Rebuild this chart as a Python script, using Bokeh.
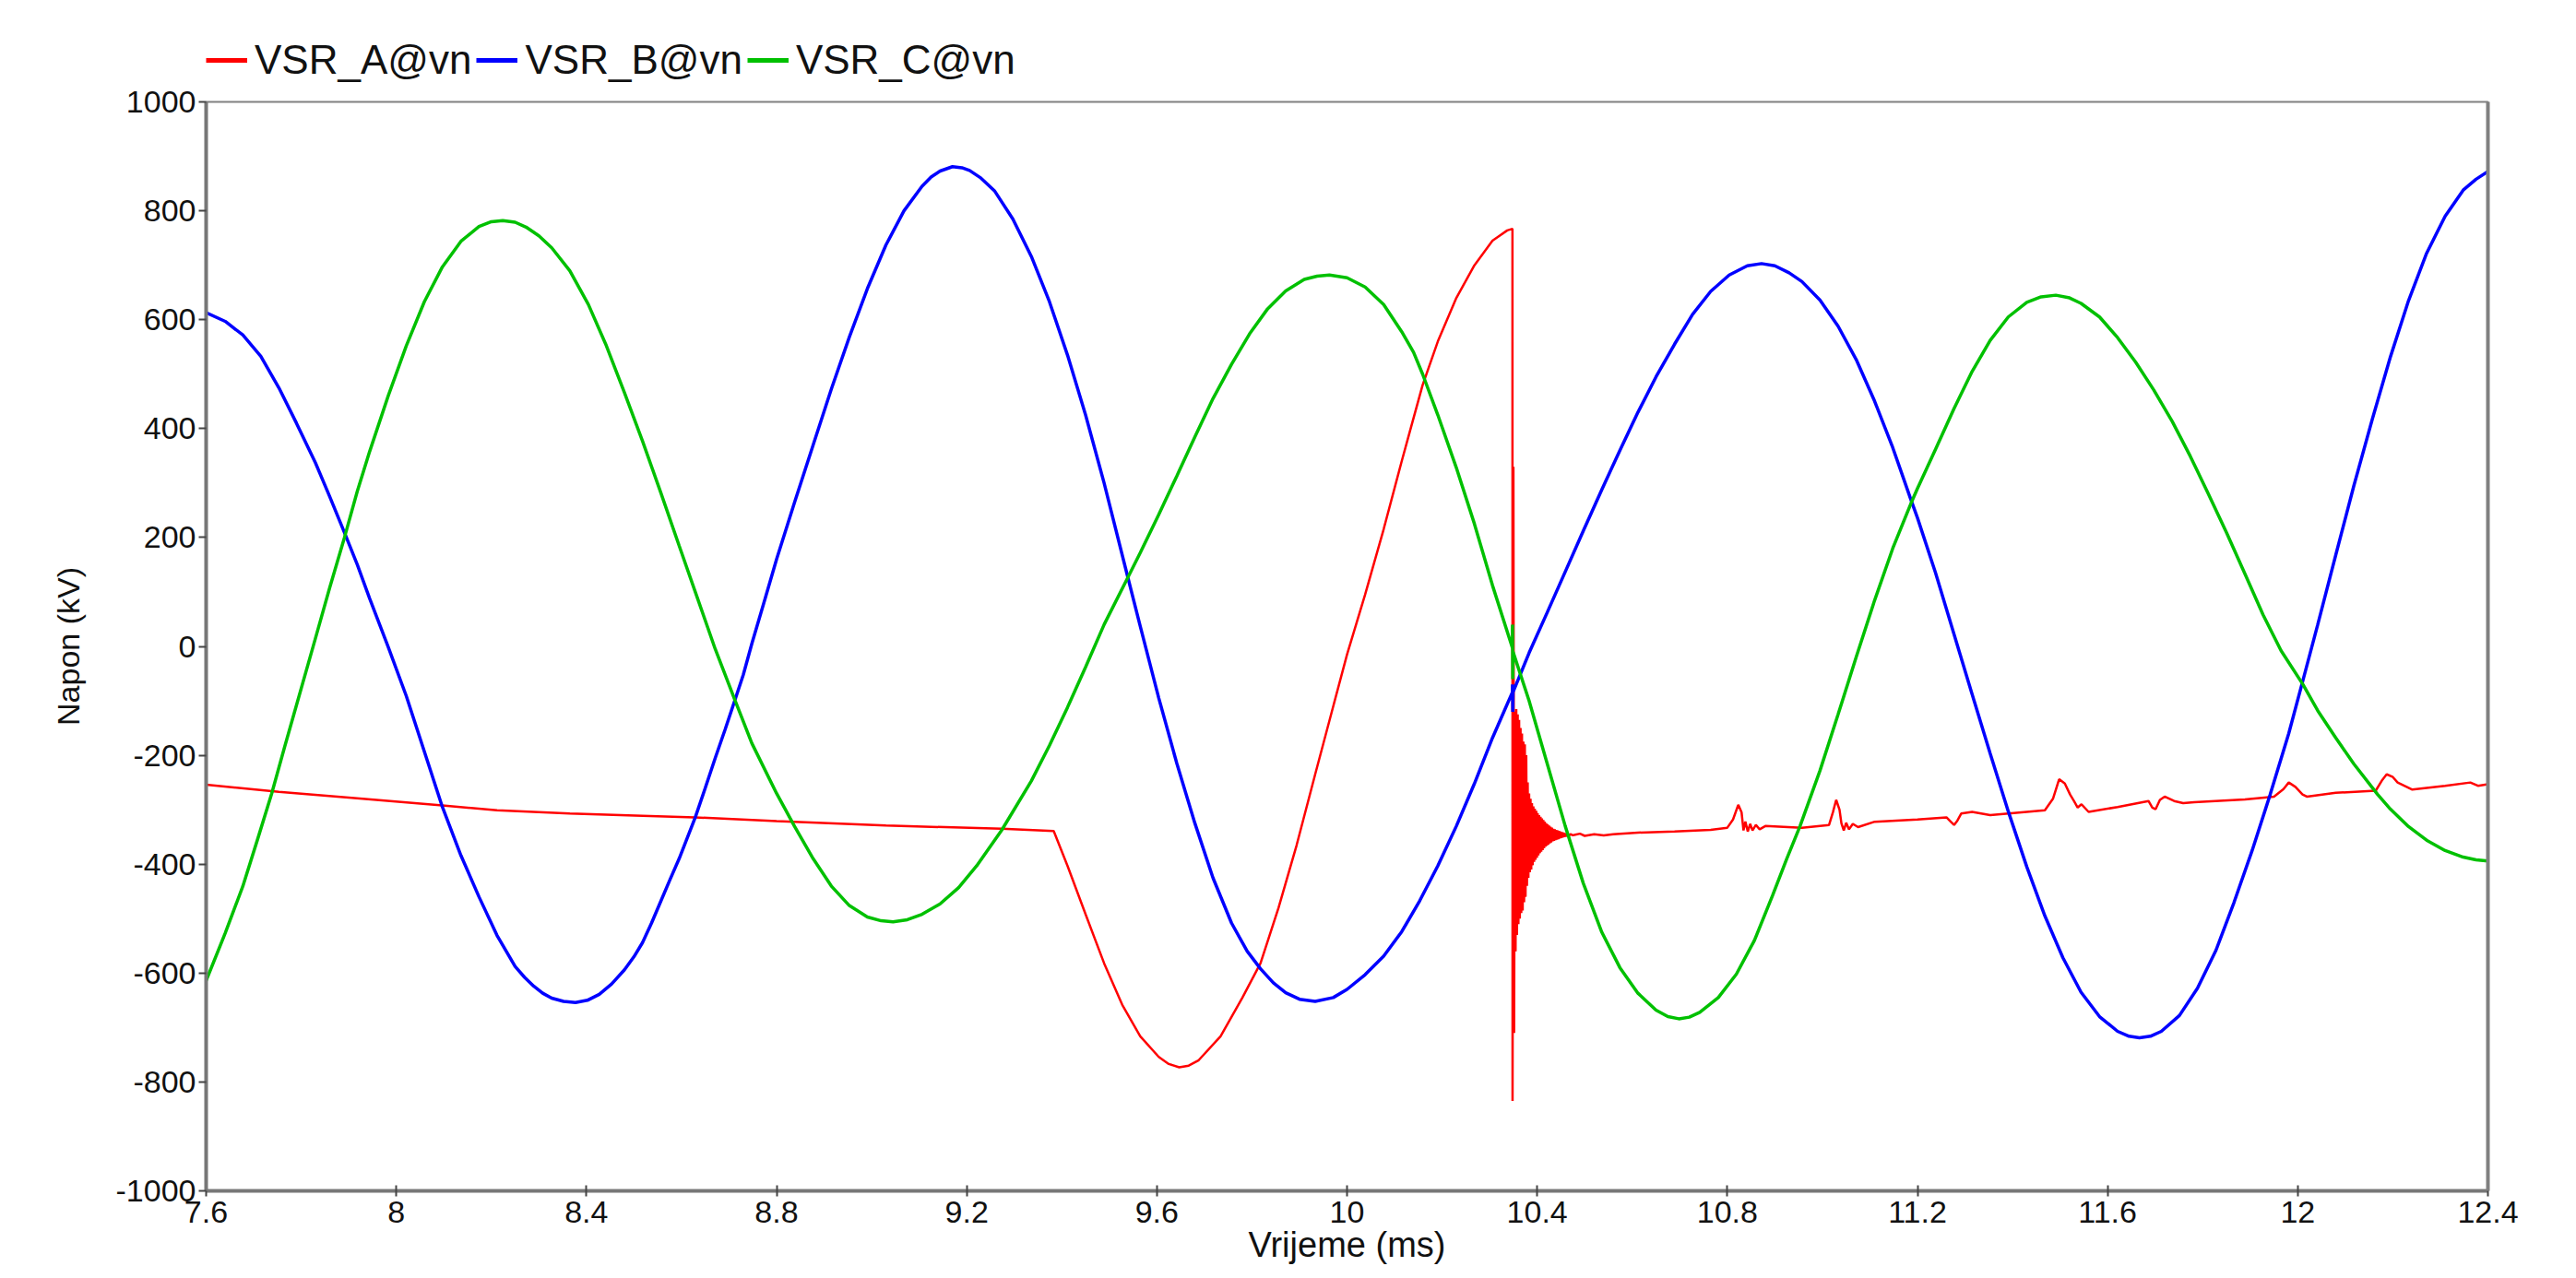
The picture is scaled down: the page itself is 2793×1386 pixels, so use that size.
from bokeh.plotting import figure
from bokeh.models import Legend, LegendItem, LinearAxis, FixedTicker, Range1d
from bokeh.layouts import column
from bokeh.embed import file_html
from bokeh.resources import INLINE

# ---------------- data (time in ms, voltage in kV) ----------------
series_names = ["VSR_A@vn", "VSR_B@vn", "VSR_C@vn"]

x_ticks = [7.6, 8.0, 8.4, 8.8, 9.2, 9.6, 10.0, 10.4, 10.8, 11.2, 11.6, 12.0, 12.4]
x_tick_labels = ["7.6", "8", "8.4", "8.8", "9.2", "9.6", "10", "10.4", "10.8", "11.2", "11.6", "12", "12.4"]
y_ticks = [-1000, -800, -600, -400, -200, 0, 200, 400, 600, 800, 1000]
y_tick_labels = ["-1000", "-800", "-600", "-400", "-200", "0", "200", "400", "600", "800", "1000"]

# VSR_B (blue)
b_t = [7.600, 7.640, 7.677, 7.715, 7.753, 7.790, 7.830, 7.860, 7.891, 7.918, 7.944, 7.983, 8.021,
       8.059, 8.097, 8.136, 8.174, 8.212, 8.250, 8.270, 8.289, 8.308, 8.327, 8.352, 8.377, 8.402,
       8.427, 8.453, 8.480, 8.500, 8.518, 8.537, 8.557, 8.575, 8.595, 8.612, 8.629, 8.650, 8.671,
       8.692, 8.713, 8.730, 8.748, 8.775, 8.800, 8.838, 8.877, 8.915, 8.953, 8.991, 9.030, 9.068,
       9.106, 9.125, 9.144, 9.170, 9.190, 9.206, 9.230, 9.259, 9.297, 9.336, 9.374, 9.412, 9.450,
       9.489, 9.538, 9.565, 9.604, 9.642, 9.680, 9.718, 9.757, 9.790, 9.818, 9.845, 9.871, 9.900,
       9.933, 9.971, 10.000, 10.038, 10.077, 10.115, 10.153, 10.191, 10.230, 10.268, 10.306, 10.348,
       10.3481, 10.3486, 10.3492, 10.383, 10.421, 10.459, 10.497, 10.536, 10.574, 10.612, 10.650,
       10.689, 10.727, 10.765, 10.804, 10.842, 10.872, 10.900, 10.930, 10.957, 10.995, 11.033,
       11.071, 11.110, 11.148, 11.186, 11.200, 11.238, 11.277, 11.315, 11.353, 11.391, 11.430,
       11.468, 11.506, 11.544, 11.583, 11.621, 11.645, 11.667, 11.690, 11.713, 11.751, 11.789,
       11.828, 11.866, 11.904, 11.942, 11.981, 12.011, 12.042, 12.080, 12.118, 12.157, 12.195,
       12.233, 12.271, 12.310, 12.348, 12.375, 12.400]
b_v = [613, 597, 572, 533, 475, 410, 337, 275, 209, 150, 88, -1, -91,
       -193, -295, -384, -460, -531, -588, -608, -624, -637, -646, -652, -654, -650,
       -639, -620, -594, -570, -544, -508, -467, -430, -390, -352, -314, -260, -205,
       -152, -97, -52, 5, 85, 160, 265, 370, 472, 568, 657, 737, 800,
       845, 862, 873, 881, 879, 874, 860, 836, 785, 716, 633, 535, 425,
       300, 130, 37, -95, -215, -325, -425, -508, -560, -592, -618, -636, -648,
       -652, -645, -630, -603, -569, -524, -467, -403, -330, -252, -168, -84,
       -70, -120, -84, -12, 62, 137, 212, 288, 360, 430, 495,
       555, 610, 652, 682, 699, 703, 699, 686, 670, 636, 588,
       527, 450, 365, 270, 236, 135, 22, -88, -197, -303, -405,
       -495, -572, -635, -680, -707, -716, -719, -716, -707, -678, -628,
       -558, -470, -375, -272, -160, -62, 40, 168, 295, 418, 532,
       635, 722, 790, 838, 858, 872]

# VSR_C (green)
c_t = [7.600, 7.640, 7.677, 7.708, 7.738, 7.765, 7.791, 7.830, 7.860, 7.891, 7.918, 7.944, 7.983,
       8.021, 8.059, 8.097, 8.136, 8.174, 8.200, 8.224, 8.250, 8.273, 8.300, 8.327, 8.365, 8.404,
       8.442, 8.480, 8.518, 8.557, 8.595, 8.633, 8.671, 8.713, 8.748, 8.800, 8.838, 8.877, 8.915,
       8.953, 8.991, 9.020, 9.045, 9.075, 9.106, 9.144, 9.183, 9.221, 9.274, 9.336, 9.374, 9.412,
       9.450, 9.489, 9.538, 9.565, 9.604, 9.642, 9.680, 9.718, 9.757, 9.795, 9.833, 9.871, 9.910,
       9.937, 9.963, 10.000, 10.038, 10.077, 10.115, 10.140, 10.159, 10.191, 10.230, 10.268, 10.306,
       10.348, 10.3481, 10.3486, 10.3492, 10.383, 10.421, 10.459, 10.497, 10.536, 10.574, 10.612,
       10.650, 10.675, 10.698, 10.720, 10.742, 10.781, 10.819, 10.857, 10.895, 10.925, 10.953,
       10.995, 11.033, 11.071, 11.110, 11.148, 11.186, 11.200, 11.238, 11.277, 11.315, 11.353,
       11.391, 11.430, 11.460, 11.491, 11.520, 11.544, 11.583, 11.621, 11.659, 11.697, 11.736,
       11.774, 11.812, 11.850, 11.889, 11.927, 11.965, 12.011, 12.042, 12.080, 12.118, 12.168,
       12.195, 12.233, 12.271, 12.310, 12.348, 12.375, 12.400]
c_v = [-614, -527, -441, -355, -270, -185, -105, 15, 108, 200, 285, 358, 460,
       552, 633, 697, 744, 771, 780, 782, 779, 770, 754, 732, 690, 628,
       552, 466, 377, 281, 185, 90, -5, -100, -178, -270, -331, -390, -440,
       -476, -497, -504, -506, -502, -492, -473, -443, -403, -337, -247, -182, -112,
       -38, 40, 125, 172, 242, 313, 385, 455, 518, 574, 620, 653, 674,
       680, 682, 677, 660, 628, 578, 540, 500, 425, 328, 225, 112,
       -3, 40, -60, -10, -100, -215, -330, -435, -525, -590, -637,
       -668, -680, -684, -681, -672, -645, -602, -540, -458, -390, -330,
       -228, -125, -20, 85, 180, 262, 290, 362, 437, 505, 562,
       605, 632, 642, 645, 640, 630, 605, 567, 522, 471, 413,
       349, 280, 209, 133, 58, -8, -70, -118, -168, -216, -272,
       -299, -331, -356, -375, -387, -392, -394]

# VSR_A (red): before the fault, the fault spike and its ringing, and the tail
a_pre_t = [7.600, 7.753, 7.906, 8.097, 8.212, 8.365, 8.518, 8.629, 8.800, 9.030, 9.274, 9.383,
           9.412, 9.450, 9.489, 9.527, 9.565, 9.604, 9.625, 9.647, 9.667, 9.688, 9.734, 9.780,
           9.818, 9.856, 9.894, 9.933, 9.971, 10.000, 10.038, 10.077, 10.115, 10.159, 10.191,
           10.230, 10.268, 10.306, 10.337, 10.348, 10.3482, 10.3500, 10.3515]
a_pre_v = [-254, -267, -278, -292, -301, -307, -311, -314, -321, -329, -335, -339,
           -403, -492, -582, -658, -716, -754, -767, -773, -770, -760, -716, -645,
           -582, -480, -365, -235, -110, -15, 95, 215, 340, 480, 560,
           640, 700, 745, 764, 767, -835, 330, -710]
a_ring_t = [10.3530, 10.3545, 10.3560, 10.3575, 10.3590, 10.3605, 10.3620, 10.3635, 10.3650, 10.3665,
            10.3680, 10.3695, 10.3710, 10.3725, 10.3740, 10.3755, 10.3770, 10.3785, 10.3800, 10.3815,
            10.3830, 10.3845, 10.3860, 10.3875, 10.3890, 10.3905, 10.3920, 10.3935, 10.3950, 10.3965,
            10.3980, 10.3995, 10.4010, 10.4025, 10.4040, 10.4055, 10.4070, 10.4085, 10.4100, 10.4115,
            10.4130, 10.4145, 10.4160, 10.4175, 10.4190, 10.4205, 10.4220, 10.4235, 10.4250, 10.4265,
            10.4280, 10.4295, 10.4310, 10.4325, 10.4340, 10.4355, 10.4370, 10.4385, 10.4400, 10.4415,
            10.4430, 10.4445, 10.4460, 10.4475, 10.4490, 10.4505, 10.4520, 10.4535, 10.4550, 10.4565,
            10.4580, 10.4600, 10.4630, 10.4660, 10.4700, 10.4750, 10.4800, 10.4900, 10.5000, 10.5200,
            10.5400]
a_ring_v = [-120, -560, -115, -530, -125, -510, -135, -500, -150, -490,
            -160, -485, -175, -470, -180, -460, -200, -440, -250, -425,
            -270, -415, -280, -410, -288, -402, -294, -396, -298, -392,
            -302, -388, -306, -384, -310, -380, -313, -377, -316, -374,
            -319, -371, -322, -368, -325, -366, -327, -364, -329, -362,
            -331, -360, -333, -358, -335, -357, -336, -356, -337, -355,
            -338, -354, -339, -353, -340, -352, -341, -351, -342, -350,
            -343, -349, -344, -348, -345, -347, -346, -344, -348, -345,
            -347]
a_post_t = [10.560, 10.612, 10.689, 10.765, 10.800, 10.812, 10.823, 10.830, 10.834, 10.838, 10.843,
            10.848, 10.853, 10.860, 10.868, 10.880, 10.957, 11.014, 11.022, 11.029, 11.036, 11.040,
            11.045, 11.050, 11.056, 11.064, 11.075, 11.110, 11.200, 11.261, 11.270, 11.277, 11.284,
            11.292, 11.315, 11.353, 11.468, 11.485, 11.498, 11.510, 11.521, 11.530, 11.537, 11.545,
            11.560, 11.621, 11.686, 11.694, 11.701, 11.710, 11.720, 11.740, 11.759, 11.782, 11.889,
            11.950, 11.970, 11.981, 11.995, 12.010, 12.019, 12.080, 12.164, 12.178, 12.187, 12.200,
            12.210, 12.241, 12.310, 12.363, 12.379, 12.400]
a_post_v = [-345, -342, -340, -337, -333, -318, -291, -305, -338, -322, -340,
            -326, -338, -328, -336, -330, -333, -328, -305, -282, -300, -325,
            -338, -324, -336, -326, -332, -322, -318, -314, -322, -328, -320,
            -307, -304, -310, -301, -280, -244, -252, -272, -285, -296, -290,
            -304, -295, -284, -296, -299, -282, -276, -284, -288, -286, -281,
            -276, -262, -250, -258, -272, -276, -269, -265, -245, -235, -240,
            -250, -263, -256, -250, -256, -253]

a_t = a_pre_t + a_ring_t + a_post_t
a_v = a_pre_v + a_ring_v + a_post_v

RED, BLUE, GREEN = "#ff0000", "#0000ff", "#00c000"
FONT = "Liberation Sans"
TXT = "#111111"

W = 2793
LEFT = 223

# ---------------- legend strip (sits above the plot) ----------------
LEG_H = 92
leg = figure(width=W, height=LEG_H, output_backend="svg", toolbar_location=None,
             x_range=Range1d(7.6, 12.4), y_range=Range1d(5000, 6000),
             min_border_left=LEFT, min_border_right=0, min_border_top=0, min_border_bottom=0,
             x_axis_type=None, y_axis_type=None, outline_line_color=None)
leg.grid.visible = False
# the same series, lying outside this strip's y range: only their legend swatches show
s_a = leg.line(a_t, a_v, line_color=RED, line_width=5)
s_b = leg.line(b_t, b_v, line_color=BLUE, line_width=5)
s_c = leg.line(c_t, c_v, line_color=GREEN, line_width=5)
legend = Legend(items=[LegendItem(label=series_names[0], renderers=[s_a]),
                       LegendItem(label=series_names[1], renderers=[s_b]),
                       LegendItem(label=series_names[2], renderers=[s_c])],
                orientation="horizontal", location=(0, 2),
                glyph_width=45, glyph_height=30, label_standoff=8, spacing=5,
                padding=0, margin=0, border_line_color=None, background_fill_alpha=0,
                label_text_font=FONT, label_text_font_size="44px", label_text_color=TXT)
leg.add_layout(legend)

# ---------------- main plot ----------------
MAIN_H = 1386 - LEG_H
TOP = 110 - LEG_H
p = figure(width=W, height=MAIN_H, output_backend="svg", toolbar_location=None,
           x_range=Range1d(7.6, 12.4), y_range=Range1d(-1000, 1000),
           min_border_left=LEFT, min_border_right=W - LEFT - 2474, min_border_top=TOP,
           min_border_bottom=MAIN_H - TOP - 1181,
           background_fill_color="white", border_fill_color="white")
p.grid.visible = False
p.outline_line_color = "#808080"
p.outline_line_width = 2

p.line(a_t, a_v, line_color=RED, line_width=2.5)
p.line(b_t, b_v, line_color=BLUE, line_width=3.5)
p.line(c_t, c_v, line_color=GREEN, line_width=3.5)

xa = p.xaxis[0]
xa.ticker = FixedTicker(ticks=x_ticks)
xa.major_label_overrides = {t: s for t, s in zip(x_ticks, x_tick_labels)}
xa.axis_label = "Vrijeme (ms)"
ya = p.yaxis[0]
ya.ticker = FixedTicker(ticks=y_ticks)
ya.major_label_overrides = {t: s for t, s in zip(y_ticks, y_tick_labels)}
ya.axis_label = "Napon (kV)"

for ax in (xa, ya):
    ax.axis_line_color = "#777777"
    ax.axis_line_width = 4
    ax.major_tick_line_color = "#444444"
    ax.major_tick_line_width = 2
    ax.minor_tick_line_color = None
    ax.major_label_text_font = FONT
    ax.major_label_text_font_size = "34px"
    ax.major_label_text_color = TXT
    ax.axis_label_text_font = FONT
    ax.axis_label_text_font_style = "normal"
    ax.axis_label_text_color = TXT

xa.major_tick_in = 6
xa.major_tick_out = 6
xa.major_label_standoff = 5
xa.axis_label_text_font_size = "38px"
xa.axis_label_standoff = 0

ya.major_tick_in = 0
ya.major_tick_out = 8
ya.major_label_standoff = 3
ya.axis_label_text_font_size = "34px"
ya.axis_label_standoff = 30

ra = LinearAxis(ticker=FixedTicker(ticks=[]), axis_line_color="#808080", axis_line_width=4,
                major_tick_line_color=None, minor_tick_line_color=None,
                major_label_text_font_size="0px")
p.add_layout(ra, "right")

open("out.html", "w").write(file_html(column(leg, p, spacing=0), INLINE))
